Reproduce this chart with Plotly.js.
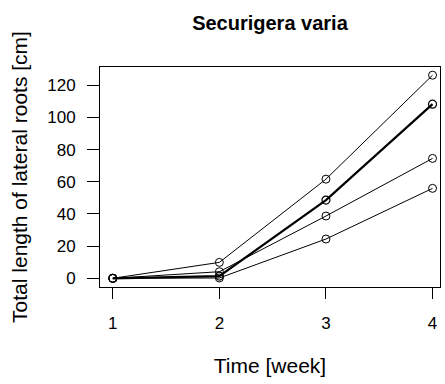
<!DOCTYPE html>
<html>
<head>
<meta charset="utf-8">
<script src="https://cdn.plot.ly/plotly-3.0.1.min.js"></script>
<style>html,body{margin:0;padding:0;background:#fff}#chart{width:445px;height:384px}</style>
</head>
<body>
<div id="chart"></div>
<script>
var weeks = [1, 2, 3, 4];
var plantA = [0, 9.9, 61.6, 126.2];
var plantB = [0, 4.1, 38.7, 74.5];
var plantC = [0, 0.2, 24.4, 55.9];
var plantMain = [0, 1.4, 48.6, 108.2];
var xTicks = [1, 2, 3, 4];
var yTicks = [0, 20, 40, 60, 80, 100, 120];

var font = '"Liberation Sans", Arial, sans-serif';
function thin(y) {
  return {x: weeks, y: y, mode: 'lines+markers', type: 'scatter',
    line: {color: '#000', width: 1},
    marker: {symbol: 'circle-open', size: 8, color: '#000', line: {width: 1}},
    showlegend: false, hoverinfo: 'skip'};
}
var traces = [thin(plantA), thin(plantB), thin(plantC),
  {x: weeks, y: plantMain, mode: 'lines+markers', type: 'scatter',
    line: {color: '#000', width: 2.2},
    marker: {symbol: 'circle-open', size: 8, color: '#000', line: {width: 1.2}},
    showlegend: false, hoverinfo: 'skip'}];

var layout = {
  width: 445, height: 384,
  margin: {l: 100, r: 5, t: 67, b: 97},
  paper_bgcolor: '#fff', plot_bgcolor: '#fff',
  font: {family: font, color: '#000'},
  title: {text: '<b>Securigera varia</b>', font: {size: 20, family: font, color: '#000'},
    x: 0.6067, xanchor: 'center', y: 0.94, yanchor: 'middle'},
  xaxis: {range: [0.88, 4.07], tickvals: xTicks, ticktext: xTicks.map(String),
    showgrid: false, zeroline: false, showline: true, mirror: true, linecolor: '#000', linewidth: 1,
    ticks: 'outside', ticklen: 11, tickwidth: 1, tickcolor: '#000',
    tickfont: {size: 17, family: font}, ticklabelstandoff: 10,
    title: {text: 'Time [week]', font: {size: 21, family: font}, standoff: 25}},
  yaxis: {range: [-5.4, 131.3], tickvals: yTicks, ticktext: yTicks.map(String),
    showgrid: false, zeroline: false, showline: true, mirror: true, linecolor: '#000', linewidth: 1,
    ticks: 'outside', ticklen: 12, tickwidth: 1, tickcolor: '#000',
    tickfont: {size: 17, family: font}, ticklabelstandoff: 8,
    title: {text: 'Total length of lateral roots [cm]', font: {size: 21, family: font}, standoff: 13}}
};
Plotly.newPlot('chart', traces, layout, {displayModeBar: false, staticPlot: true});
</script>
</body>
</html>
